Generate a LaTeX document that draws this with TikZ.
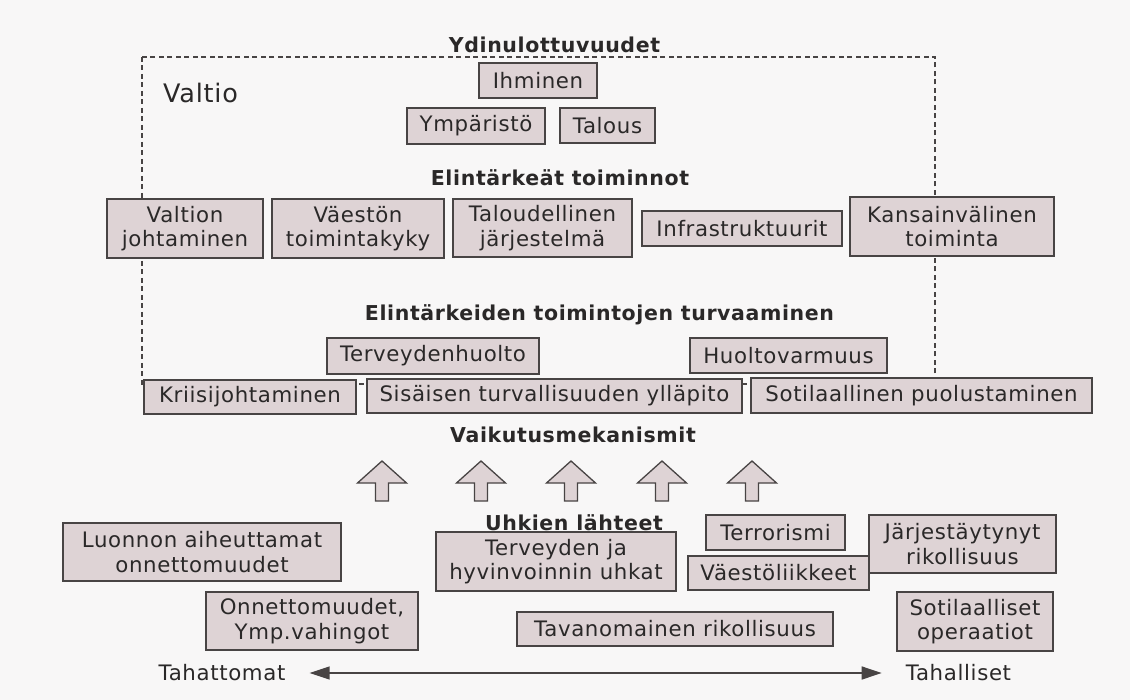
\documentclass[tikz,border=0pt]{standalone}
\usepackage{fontspec}
\setmainfont{DejaVu Sans}[LetterSpace=3]
\usetikzlibrary{arrows.meta}

\definecolor{bg}{RGB}{248,247,247}
\definecolor{boxfill}{RGB}{222,211,213}
\definecolor{boxline}{RGB}{72,68,68}
\definecolor{txt}{RGB}{42,40,40}

\begin{document}
\begin{tikzpicture}[x=1pt,y=-1pt,
    box/.style={draw=boxline,fill=boxfill,line width=1.4pt,inner sep=0pt,
      align=center,text=txt,font=\fontsize{21.3}{24.5}\selectfont},
    sz/.style 2 args={minimum width=#1pt,minimum height=#2pt},
    head/.style={text=txt,inner sep=0pt,font=\fontsize{20.5}{24}\selectfont\bfseries},
    plain/.style={text=txt,inner sep=0pt,font=\fontsize{21.3}{24}\selectfont},
    uparrow/.style={draw=boxline,fill=boxfill,line width=1.3pt,line join=miter}]
  \fill[bg] (0,0) rectangle (1130,700);

  % Valtio
  \draw[boxline,line width=1.2pt,dash pattern=on 5pt off 3.5pt] (142,57) rectangle (935,384);
  \node[plain,anchor=west,font=\fontsize{25.5}{28}\selectfont] (valtio) at (163,93) {Valtio};

  % ydinulottuvuudet
  \node[head] (ydin) at (554.5,45) {Ydinulottuvuudet};
  \node[box,sz={118}{35}] (ihm) at (538,80.5) {Ihminen};
  \node[box,sz={138}{36}] (ymp) at (476,126) {Ympäristö};
  \node[box,sz={95}{35}] (tal) at (607.5,125.5) {Talous};

  % elintarkeat toiminnot
  \node[head] (elin) at (560,178) {Elintärkeät toiminnot};
  \node[box,sz={156}{59}] (vjoh) at (185,228.5) {Valtion\\johtaminen};
  \node[box,sz={172}{59}] (vtoi) at (358,228.5) {Väestön\\toimintakyky};
  \node[box,sz={179}{58}] (tjar) at (542.5,228) {Taloudellinen\\järjestelmä};
  \node[box,sz={200}{35}] (infra) at (742,228.5) {Infrastruktuurit};
  \node[box,sz={204}{59}] (kans) at (952,226.5) {Kansainvälinen\\toiminta};

  % turvaaminen
  \node[head] (turv) at (599.5,315) {Elintärkeiden toimintojen turvaaminen};
  \node[box,sz={212}{36}] (terv) at (433,356) {Terveydenhuolto};
  \node[box,sz={197}{35}] (huolto) at (788.5,355.5) {Huoltovarmuus};
  \node[box,sz={212}{34}] (kriisi) at (250,397) {Kriisijohtaminen};
  \node[box,sz={375}{34}] (sis) at (554.5,396) {Sisäisen turvallisuuden ylläpito};
  \node[box,sz={341}{35}] (sot) at (921.5,395.5) {Sotilaallinen puolustaminen};

  % vaikutusmekanismit
  \node[head] (vaik) at (573,435) {Vaikutusmekanismit};
  \foreach \x in {382,481,571,662,752}
    \draw[uparrow] (\x-6.5,501) -- (\x-6.5,483) -- (\x-24.5,483) -- (\x,461)
      -- (\x+24.5,483) -- (\x+6.5,483) -- (\x+6.5,501) -- cycle;

  % uhkien lahteet
  \node[head] (uhk) at (574,523) {Uhkien lähteet};
  \node[box,sz={278}{58}] (luon) at (202,552) {Luonnon aiheuttamat\\onnettomuudet};
  \node[box,sz={212}{58}] (onn) at (312,621) {Onnettomuudet,\\Ymp.vahingot};
  \node[box,sz={240}{59}] (thyv) at (556,561.5) {Terveyden ja\\hyvinvoinnin uhkat};
  \node[box,sz={316}{34}] (tava) at (675,629) {Tavanomainen rikollisuus};
  \node[box,sz={139}{35}] (terr) at (775.5,532.5) {Terrorismi};
  \node[box,sz={181}{34}] (vliik) at (778.5,573) {Väestöliikkeet};
  \node[box,sz={187}{58}] (jarj) at (962.5,544) {Järjestäytynyt\\rikollisuus};
  \node[box,sz={156}{59}] (sop) at (975,621.5) {Sotilaalliset\\operaatiot};

  % tahattomat - tahalliset
  \node[plain] (tahat) at (222,673) {Tahattomat};
  \node[plain] (tahal) at (958.5,673) {Tahalliset};
  \draw[{Triangle[length=20pt,width=13pt]}-{Triangle[length=20pt,width=13pt]},
    boxline,line width=1.3pt,shorten <=24pt,shorten >=24pt] (tahat.east) -- (tahal.west);
\end{tikzpicture}
\end{document}
